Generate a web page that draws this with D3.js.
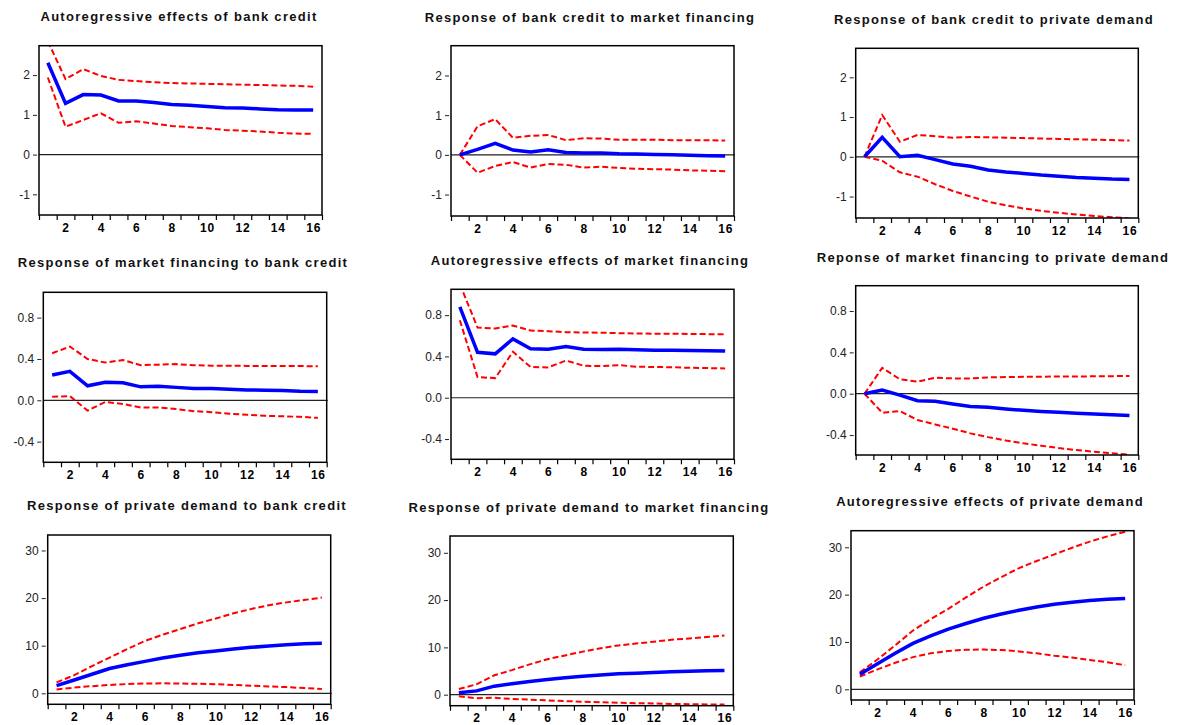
<!DOCTYPE html>
<html>
<head>
<meta charset="utf-8">
<script src="https://cdn.jsdelivr.net/npm/d3@7"></script>
<style>
  body { margin: 0; background: #fff; }
  svg { display: block; font-family: "Liberation Sans", Arial, sans-serif; }
</style>
</head>
<body>
<svg id="chart" width="1180" height="725"></svg>
<script>
// periods of the impulse responses and the labelled ones on the x axis
const periods = [1, 2, 3, 4, 5, 6, 7, 8, 9, 10, 11, 12, 13, 14, 15, 16]
const xLabels = [2, 4, 6, 8, 10, 12, 14, 16]

const titles = [
  "Autoregressive effects of bank credit",
  "Response of bank credit to market financing",
  "Response of bank credit to private demand",
  "Response of market financing to bank credit",
  "Autoregressive effects of market financing",
  "Reponse of market financing to private demand",
  "Response of private demand to bank credit",
  "Response of private demand to market financing",
  "Autoregressive effects of private demand"
]

// y tick values per row of panels
const ticksRow1 = [-1, 0, 1, 2]
const ticksRow2 = [-0.4, 0, 0.4, 0.8]
const ticksRow3 = [0, 10, 20, 30]

// y ranges of each panel
const yRanges = [
  [-1.52, 2.74], [-1.54, 2.75], [-1.54, 2.73],
  [-0.60, 1.045], [-0.596, 1.05], [-0.593, 1.045],
  [-2.31, 33.25], [-2.33, 33.55], [-2.26, 33.5]
]

// impulse responses (blue)
const irf = [
  [2.31, 1.29, 1.51, 1.50, 1.35, 1.35, 1.31, 1.26, 1.24, 1.21, 1.18, 1.17, 1.15, 1.13, 1.12, 1.12],
  [0, 0.14, 0.29, 0.12, 0.07, 0.13, 0.06, 0.05, 0.05, 0.03, 0.02, 0.01, 0.0, -0.01, -0.02, -0.03],
  [0, 0.49, 0.0, 0.04, -0.07, -0.18, -0.24, -0.33, -0.38, -0.42, -0.46, -0.49, -0.52, -0.54, -0.56, -0.57],
  [0.245, 0.28, 0.14, 0.175, 0.17, 0.13, 0.135, 0.125, 0.115, 0.113, 0.106, 0.10, 0.097, 0.094, 0.087, 0.084],
  [0.88, 0.44, 0.425, 0.57, 0.475, 0.47, 0.495, 0.47, 0.468, 0.47, 0.465, 0.46, 0.46, 0.458, 0.455, 0.452],
  [0, 0.035, -0.013, -0.068, -0.074, -0.10, -0.123, -0.132, -0.148, -0.161, -0.171, -0.18, -0.19, -0.197, -0.203, -0.21],
  [1.6, 2.8, 4.0, 5.2, 6.0, 6.7, 7.4, 8.0, 8.5, 8.9, 9.3, 9.65, 9.95, 10.2, 10.4, 10.5],
  [0.4, 0.8, 1.8, 2.3, 2.8, 3.2, 3.6, 3.9, 4.15, 4.4, 4.55, 4.7, 4.85, 4.95, 5.05, 5.1],
  [3.2, 5.4, 7.6, 9.7, 11.3, 12.7, 13.9, 15.0, 15.9, 16.7, 17.4, 17.95, 18.4, 18.75, 19.0, 19.2]
]

// upper confidence band (red dashed)
const upper = [
  [2.85, 1.90, 2.15, 1.98, 1.88, 1.85, 1.82, 1.80, 1.79, 1.78, 1.77, 1.76, 1.75, 1.74, 1.73, 1.71],
  [0, 0.72, 0.90, 0.43, 0.48, 0.50, 0.37, 0.42, 0.41, 0.38, 0.38, 0.38, 0.37, 0.37, 0.37, 0.36],
  [0, 1.05, 0.38, 0.55, 0.52, 0.48, 0.50, 0.49, 0.48, 0.47, 0.46, 0.45, 0.44, 0.43, 0.42, 0.41],
  [0.455, 0.52, 0.40, 0.365, 0.39, 0.34, 0.345, 0.35, 0.34, 0.335, 0.335, 0.333, 0.333, 0.332, 0.331, 0.33],
  [1.10, 0.68, 0.67, 0.70, 0.65, 0.645, 0.635, 0.632, 0.63, 0.625, 0.622, 0.62, 0.619, 0.618, 0.616, 0.615],
  [0, 0.25, 0.14, 0.116, 0.155, 0.148, 0.148, 0.158, 0.161, 0.163, 0.165, 0.166, 0.167, 0.168, 0.17, 0.171],
  [2.3, 3.8, 5.7, 7.5, 9.3, 11.0, 12.3, 13.5, 14.7, 15.7, 16.8, 17.7, 18.5, 19.1, 19.6, 20.1],
  [1.2, 2.2, 4.1, 5.2, 6.4, 7.5, 8.3, 9.1, 9.8, 10.4, 10.8, 11.2, 11.6, 11.9, 12.2, 12.5],
  [3.6, 6.3, 9.3, 12.4, 14.8, 17.0, 19.4, 21.7, 23.7, 25.6, 27.1, 28.5, 29.9, 31.2, 32.3, 33.3]
]

// lower confidence band (red dashed)
const lower = [
  [1.94, 0.70, 0.87, 1.04, 0.80, 0.84, 0.78, 0.72, 0.69, 0.66, 0.62, 0.60, 0.58, 0.55, 0.53, 0.52],
  [0, -0.45, -0.28, -0.18, -0.32, -0.23, -0.25, -0.32, -0.30, -0.33, -0.35, -0.36, -0.37, -0.39, -0.40, -0.41],
  [0, -0.10, -0.39, -0.50, -0.69, -0.86, -1.0, -1.13, -1.22, -1.30, -1.36, -1.41, -1.45, -1.49, -1.52, -1.55],
  [0.035, 0.04, -0.10, -0.016, -0.035, -0.07, -0.07, -0.085, -0.105, -0.115, -0.13, -0.14, -0.15, -0.155, -0.16, -0.17],
  [0.75, 0.20, 0.19, 0.445, 0.297, 0.294, 0.36, 0.31, 0.306, 0.316, 0.30, 0.298, 0.295, 0.29, 0.287, 0.284],
  [0, -0.184, -0.168, -0.255, -0.297, -0.339, -0.384, -0.42, -0.452, -0.48, -0.503, -0.526, -0.545, -0.561, -0.577, -0.59],
  [0.8, 1.2, 1.5, 1.75, 1.95, 2.05, 2.1, 2.05, 2.0, 1.9, 1.75, 1.6, 1.45, 1.3, 1.1, 0.9],
  [-0.35, -0.75, -0.65, -0.9, -1.05, -1.2, -1.35, -1.5, -1.6, -1.7, -1.8, -1.85, -1.95, -2.0, -2.05, -2.1],
  [2.7, 4.2, 5.6, 6.8, 7.6, 8.1, 8.35, 8.4, 8.3, 8.0, 7.6, 7.1, 6.7, 6.2, 5.7, 5.1]
]

// layout: plot box [left, top, right, bottom] and title [centre x, baseline y]
const boxes = [
  [39, 45.7, 322, 215], [451, 45.7, 734, 216], [855.7, 48.3, 1138.3, 218],
  [43.3, 292.3, 326.7, 462.3], [451, 289.3, 734, 459.3], [855.7, 285.7, 1138.3, 455],
  [47.7, 535, 330.7, 704.3], [450, 536, 733.3, 705.7], [851, 530.7, 1134, 700]
]
const titlePos = [
  [179, 21], [590, 22], [994, 24],
  [183, 267], [590, 265], [993, 262],
  [187, 510], [589, 512], [990, 506]
]

const svg = d3.select("#chart")

function fmt(row) {
  if (row == 1) return d => d.toFixed(1)
  return d => String(d)
}

function drawPanel(i) {
  const [x0, y0, x1, y1] = boxes[i]
  const row = Math.floor(i / 3)
  const ticks = [ticksRow1, ticksRow2, ticksRow3][row]

  const x = d3.scaleLinear().domain([0.5, 16.5]).range([x0, x1])
  const y = d3.scaleLinear().domain(yRanges[i]).range([y1, y0])
  const g = svg.append("g")

  g.append("clipPath").attr("id", "clip" + i)
    .append("rect")
    .attr("x", x0).attr("y", y0)
    .attr("width", x1 - x0).attr("height", y1 - y0)

  // title
  g.append("text")
    .attr("x", titlePos[i][0])
    .attr("y", titlePos[i][1])
    .attr("text-anchor", "middle")
    .style("font-size", "13px")
    .style("font-weight", "bold")
    .style("letter-spacing", "1.3px")
    .style("fill", "#111")
    .text(titles[i])

  // zero line
  g.append("line")
    .attr("x1", x0).attr("x2", x1 + 1)
    .attr("y1", y(0)).attr("y2", y(0))
    .style("stroke", "#222")
    .style("stroke-width", 1.2)

  const line = d3.line()
    .x((d, k) => x(periods[k]))
    .y(d => y(d))

  const lines = g.append("g").attr("clip-path", "url(#clip" + i + ")")
  ;[upper[i], lower[i]].forEach(band => {
    lines.append("path")
      .datum(band)
      .attr("d", line)
      .style("fill", "none")
      .style("stroke", "#ff0000")
      .style("stroke-width", 2)
      .style("stroke-dasharray", "6,3")
  })
  lines.append("path")
    .datum(irf[i])
    .attr("d", line)
    .style("fill", "none")
    .style("stroke", "#0000ff")
    .style("stroke-width", 3.5)

  // box
  g.append("rect")
    .attr("x", x0).attr("y", y0)
    .attr("width", x1 - x0).attr("height", y1 - y0)
    .style("fill", "none")
    .style("stroke", "#000")
    .style("stroke-width", 1.5)

  // y axis
  const ya = g.append("g")
    .attr("transform", `translate(${x0 - 2},0)`)
    .call(d3.axisLeft(y).tickValues(ticks).tickSize(4).tickPadding(3).tickFormat(fmt(row)))
  ya.select(".domain").remove()
  ya.selectAll("line").style("stroke", "#222")
  ya.selectAll("text")
    .style("font-size", "12px")
    .style("font-family", "'Liberation Sans', Arial, sans-serif")
    .style("fill", "#222")

  // x axis: ticks between periods, labels on even periods
  const bounds = periods.map(p => p - 0.5).concat([16.5])
  const xa = g.append("g")
    .attr("transform", `translate(0,${y1})`)
    .call(d3.axisBottom(x).tickValues(bounds).tickSize(5).tickFormat(""))
  xa.select(".domain").remove()
  xa.selectAll("line").style("stroke", "#000").style("stroke-width", 1.2)

  const xl = g.append("g")
    .attr("transform", `translate(0,${y1})`)
    .call(d3.axisBottom(x).tickValues(xLabels).tickSize(0).tickPadding(8))
  xl.select(".domain").remove()
  xl.selectAll("text")
    .style("font-size", "12px")
    .style("font-weight", "bold")
    .style("letter-spacing", "0.8px")
    .style("font-family", "'Liberation Sans', Arial, sans-serif")
    .style("fill", "#000")
}

for (let i = 0; i < 9; i++) {
  drawPanel(i)
}
</script>
</body>
</html>
